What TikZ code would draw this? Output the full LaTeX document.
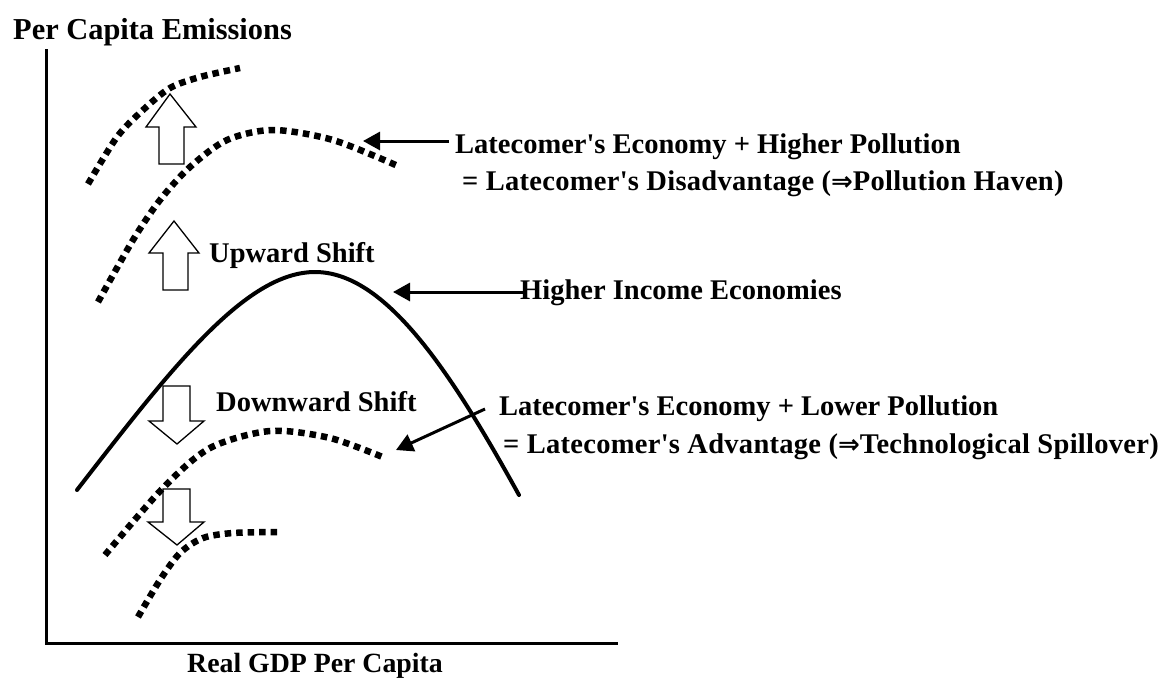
\documentclass[tikz,border=0pt]{standalone}
\usepackage{fontspec}
\newfontfamily\tnr{Liberation Serif}
\newfontfamily\dvs{DejaVu Sans}
\usetikzlibrary{arrows.meta}
\newcommand\darr{{\dvs\bfseries\fontsize{26}{30}\selectfont ⇒}}
\tikzset{
  lbl/.style={inner sep=0pt, anchor=base west, font=\tnr\bfseries\fontsize{28.5}{34}\selectfont},
  lblsp/.style={lbl, font=\tnr\bfseries\fontsize{28.5}{34}\selectfont\addfontfeature{LetterSpace=1.0}},
  dotc/.style={line width=6.5pt, dash pattern=on 6.5pt off 5pt},
  solidc/.style={line width=4pt, line cap=round},
  axisline/.style={line width=3pt},
  ptr/.style={line width=3pt, -{Triangle[length=17pt,width=18pt]}},
  blk/.style={draw, fill=white, line width=1.3pt, line join=miter},
}
\begin{document}
\begin{tikzpicture}[x=1pt,y=-1pt]
\useasboundingbox[fill=white] (0,0) rectangle (1168,678);

% axes
\coordinate (ytop) at (46,49);
\coordinate (O) at (46,643);
\coordinate (xend) at (618,643);
\draw[axisline] (ytop) -- (O) -- (xend);

% labels
\node[lbl, font=\tnr\bfseries\fontsize{30.4}{36}\selectfont] (ylab) at (13,39) {Per Capita Emissions};
\node[lbl, font=\tnr\bfseries\fontsize{27.8}{33}\selectfont] (xlab) at (187,672) {Real GDP Per Capita};
\node[lbl] (up) at (209,262) {Upward Shift};
\node[lbl] (down) at (216,411) {Downward Shift};
\node[lbl] (hp1) at (455,153) {Latecomer's Economy + Higher Pollution};
\node[lblsp] (hp2) at (462,190) {= Latecomer's Disadvantage (\darr Pollution Haven)};
\node[lbl] (hi) at (520,299) {Higher Income Economies};
\node[lbl] (lp1) at (499,415) {Latecomer's Economy + Lower Pollution};
\node[lblsp] (lp2) at (503,453) {= Latecomer's Advantage (\darr Technological Spillover)};

% hollow block arrows
\draw[blk] (159,164) -- (159,127) -- (146,127) -- (170,94) -- (196,127) -- (184,127) -- (184,164) -- cycle;
\draw[blk] (163,290) -- (163,253) -- (149,253) -- (174,221) -- (199,253) -- (188,253) -- (188,290) -- cycle;
\draw[blk] (163,386) -- (163,421) -- (149,421) -- (177,444) -- (204,421) -- (190,421) -- (190,386) -- cycle;
\draw[blk] (163,489) -- (163,522) -- (148,522) -- (177,545) -- (204,522) -- (190,522) -- (190,489) -- cycle;

% curves
\draw[dotc] plot[smooth] coordinates {(88,184) (117,137) (143,110) (170,88) (200,77) (240,68)};
\draw[dotc] plot[smooth] coordinates {(98,302) (133,240) (160,200) (190,167) (227,140) (273,130) (333,140) (398,166)};
\draw[solidc] (77,490) .. controls (170,370) and (245,272) .. (315,272)
                       .. controls (385,272) and (450,370) .. (519,495);
\draw[dotc] plot[smooth] coordinates {(105,555) (163,488) (210,448) (270,431) (330,438) (385,458)};
\draw[dotc] plot[smooth] coordinates {(138,617) (160,580) (180,553) (203,538) (233,533) (278,532)};

% pointer arrows
\coordinate (a1s) at (449,141);
\coordinate (a1e) at (363,141);
\coordinate (a2s) at (526,292);
\coordinate (a2e) at (393,292);
\coordinate (a3s) at (485,409);
\coordinate (a3e) at (396,450);
\draw[ptr] (a1s) -- (a1e);
\draw[ptr] (a2s) -- (a2e);
\draw[ptr] (a3s) -- (a3e);
\end{tikzpicture}
\end{document}
